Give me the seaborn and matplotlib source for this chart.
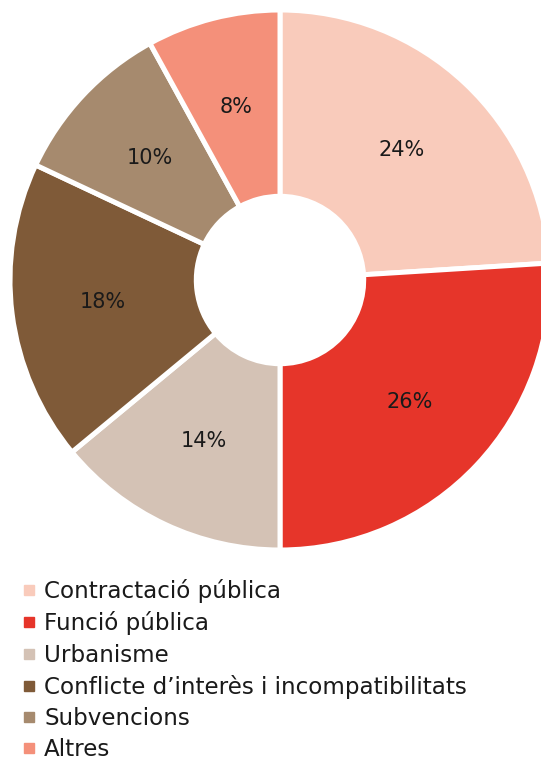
import matplotlib
matplotlib.use("Agg")
import matplotlib.pyplot as plt
from matplotlib.lines import Line2D
import seaborn as sns

# Dades del gràfic
categories = ["Contractació pública", "Funció pública", "Urbanisme",
              "Conflicte d’interès i incompatibilitats", "Subvencions", "Altres"]
valors = [24, 26, 14, 18, 10, 8]
colors = ["#f9cbbb", "#e6352a", "#d4c2b5", "#7f5a38", "#a68a6e", "#f4907a"]

sns.set_style("white")
plt.rcParams["font.family"] = ["DejaVu Sans"]

fig = plt.figure(figsize=(5.41, 7.62), dpi=100)
W, H = 541, 762
# eix del pastís: centre (280, 280) px, radi 270 px
ax = fig.add_axes([10 / W, (H - 550) / H, 540 / W, 540 / H])

wedges, texts, autotexts = ax.pie(
    valors, colors=colors, startangle=90, counterclock=False, radius=1,
    autopct=lambda p: f"{p:.0f}%", pctdistance=0.66,
    wedgeprops=dict(width=0.69, edgecolor="white", linewidth=3.6),
    textprops=dict(fontsize=15, color="#1a1a1a"),
)
for w in wedges:
    w.set_clip_on(False)
ax.set_xlim(-1, 1)
ax.set_ylim(-1, 1)
ax.set_aspect("equal")
ax.axis("off")

handles = [Line2D([0], [0], marker="s", linestyle="none", markersize=7.5,
                  markerfacecolor=c, markeredgecolor=c) for c in colors]
fig.legend(handles, categories, loc="upper left",
           bbox_to_anchor=(20 / W, (H - 579) / H), frameon=False,
           fontsize=16.6, handletextpad=0.25, labelspacing=0.36,
           handlelength=0.8, borderaxespad=0, borderpad=0,
           labelcolor="#1a1a1a")

fig.savefig("out.png", dpi=100)
